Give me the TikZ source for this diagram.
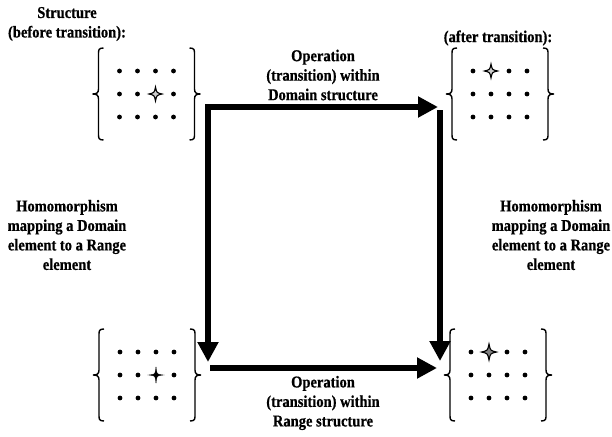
\documentclass[tikz,border=0pt]{standalone}
\usepackage{fontspec}
\setmainfont{Liberation Serif}[BoldFeatures={FakeStretch=0.88,FakeBold=0.6}]
\usetikzlibrary{arrows.meta}

\tikzset{
  lbl/.style={font=\bfseries\fontsize{16.5}{19.5}\selectfont, align=center, inner sep=0pt},
  flow/.style={line width=6.5pt, -{Triangle[width=20pt,length=20pt]}},
  grp/.style={minimum width=108pt, minimum height=92pt, inner sep=0pt},
  curly/.style={line width=1.4pt},
  star4/.pic={\draw[fill=#1, line width=1.1pt] (0,-7) .. controls (1.2,-1.2) .. (6.5,0) .. controls (1.2,1.2) .. (0,7)
      .. controls (-1.2,1.2) .. (-6.5,0) .. controls (-1.2,-1.2) .. (0,-7) -- cycle;},
  cross4/.pic={\draw[fill, line width=0.6pt] (0,-8) .. controls (0.6,-0.6) .. (6.5,0) .. controls (0.6,0.6) .. (0,8)
      .. controls (-0.6,0.6) .. (-6.5,0) .. controls (-0.6,-0.6) .. (0,-8) -- cycle;}
}

\begin{document}
\begin{tikzpicture}[x=1pt,y=-1pt]
\useasboundingbox (0,0) rectangle (612,436);

% the four structures
\node[grp] (tl) at (146.5,94) {};
\node[grp] (tr) at (500,94) {};
\node[grp] (bl) at (147,375) {};
\node[grp] (br) at (498,375) {};

\foreach \g/\sc/\sr in {tl/3/2, tr/2/1, bl/3/2, br/2/1}{
  \begin{scope}[shift={(\g)}]
    \draw[curly] (-43,-46) .. controls (-48,-46) and (-48,-44) .. (-48,-40) -- (-48,-5)
        .. controls (-48,-1) and (-50,0) .. (-54,0) .. controls (-50,0) and (-48,1) .. (-48,5)
        -- (-48,40) .. controls (-48,44) and (-48,46) .. (-43,46);
    \draw[curly] (43,-46) .. controls (48,-46) and (48,-44) .. (48,-40) -- (48,-5)
        .. controls (48,-1) and (50,0) .. (54,0) .. controls (50,0) and (48,1) .. (48,5)
        -- (48,40) .. controls (48,44) and (48,46) .. (43,46);
    \foreach \c in {1,...,4}{
      \foreach \r in {1,2,3}{
        \pgfmathtruncatemacro\hit{and(\c==\sc,\r==\sr)}
        \ifnum\hit=0 \fill ({18*\c-45},{23*\r-46}) circle (2.4pt); \fi
      }
    }
  \end{scope}
}

\path (tl) ++(9,0) pic {star4=gray!40};
\path (tr) ++(-9,-23) pic {star4=gray!40};
\path (bl) ++(9,0) pic {cross4};
\path (br) ++(-9,-23) pic[scale=1.15] {star4=gray};

% arrows
\coordinate (tlcorner) at (208,107);
\coordinate (trin) at (438,107);
\coordinate (blin) at (208,362);
\coordinate (trout) at (440,110);
\coordinate (brin) at (440,361);
\coordinate (blout) at (210,368);
\coordinate (brleft) at (437,368);

\draw[flow, line cap=rect] (tlcorner) -- (trin);
\draw[flow, line cap=rect] (tlcorner) -- (blin);
\draw[flow] (trout) -- (brin);
\draw[flow] (blout) -- (brleft);

% labels
\node[lbl] (before) at (67,24) {Structure\\(before transition):};
\node[lbl] (after) at (498,38) {(after transition):};
\node[lbl] (opdom) at (323,75) {Operation\\(transition) within\\Domain structure};
\node[lbl] (oprng) at (323,403) {Operation\\(transition) within\\Range structure};
\node[lbl] (homl) at (67,235) {Homomorphism\\mapping a Domain\\element to a Range\\element};
\node[lbl] (homr) at (551,235) {Homomorphism\\mapping a Domain\\element to a Range\\element};

\end{tikzpicture}
\end{document}
